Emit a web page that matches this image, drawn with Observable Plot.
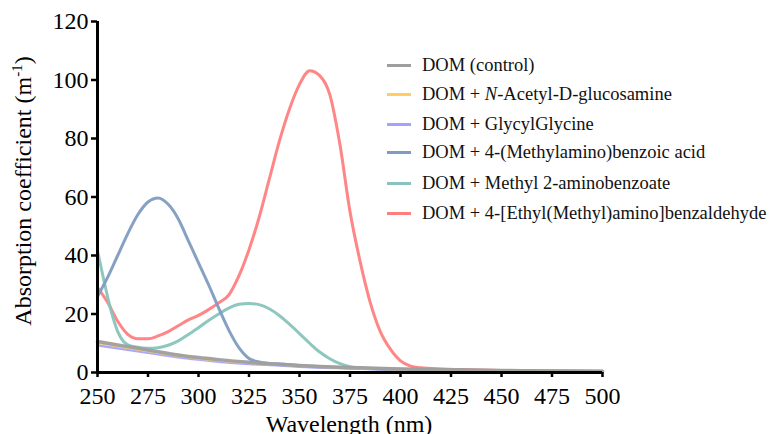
<!DOCTYPE html>
<html>
<head>
<meta charset="utf-8">
<script src="https://cdn.jsdelivr.net/npm/d3@7"></script>
<script src="https://cdn.jsdelivr.net/npm/@observablehq/plot@0.6"></script>
<style>
  html, body { margin: 0; padding: 0; background: #fff; }
  #wrap { position: relative; width: 769px; height: 434px; overflow: hidden; font-family: "Liberation Serif", "Times New Roman", serif; }
  #legend { position: absolute; left: 387px; top: 50px; }
  .item { position: absolute; left: 0; height: 30px; display: flex; align-items: center; white-space: nowrap; font-size: 18.5px; color: #111; }
  .swatch { width: 24px; height: 3px; margin-right: 11px; }
</style>
</head>
<body>
<div id="wrap"><div id="legend"></div></div>
<script>
// ---- data ----
const seriesNames = [
  "DOM (control)",
  "DOM + N-Acetyl-D-glucosamine",
  "DOM + GlycylGlycine",
  "DOM + 4-(Methylamino)benzoic acid",
  "DOM + Methyl 2-aminobenzoate",
  "DOM + 4-[Ethyl(Methyl)amino]benzaldehyde"
];
const seriesColors = ["#9e9e9e", "#ffcc66", "#a3a3ff", "#7f9cc0", "#88c4bd", "#ff7f7f"];

const controlW = [250, 260, 270, 280, 290, 300, 310, 325, 340, 350, 375, 400, 425, 450, 475, 500];
const controlV = [10.6, 9.4, 8.3, 7.1, 6.0, 5.1, 4.4, 3.5, 2.8, 2.4, 1.7, 1.2, 0.9, 0.7, 0.55, 0.45];

const nagW = [250, 260, 270, 280, 290, 300, 310, 325, 340, 350, 375, 400, 425, 450, 475, 500];
const nagV = [10.0, 8.9, 7.8, 6.7, 5.6, 4.7, 4.0, 3.2, 2.6, 2.2, 1.5, 1.0, 0.8, 0.6, 0.5, 0.4];

const ggW = [250, 260, 270, 280, 290, 300, 310, 325, 340, 350, 375, 400, 425, 450, 475, 500];
const ggV = [9.3, 8.3, 7.3, 6.2, 5.2, 4.4, 3.7, 2.9, 2.4, 2.0, 1.4, 0.9, 0.7, 0.5, 0.4, 0.3];

const mabW = [250, 255, 260, 265, 270, 275, 280, 285, 290, 295, 300, 305, 310, 315, 320, 325, 330, 335, 340, 350, 375, 400, 425, 450, 475, 500];
const mabV = [26, 32.5, 40, 47.5, 54, 58.3, 59.7, 57.5, 52.5, 45, 37.5, 30, 22, 14.5, 8.5, 4.8, 3.6, 3.1, 2.9, 2.4, 1.6, 1.1, 0.8, 0.6, 0.5, 0.4];

const m2aW = [250, 253, 256, 260, 263, 265, 270, 275, 280, 285, 290, 295, 300, 305, 310, 315, 320, 325, 330, 335, 340, 345, 350, 355, 360, 365, 370, 375, 380, 390, 400, 425, 450, 475, 500];
const m2aV = [41.5, 32, 23, 14, 10.5, 9.5, 8.6, 8.3, 8.5, 9.3, 10.8, 13, 15.3, 17.8, 20, 22, 23.3, 23.6, 23.2, 21.8, 19.5, 16.5, 13.3, 10, 7, 4.7, 3, 2, 1.5, 1.1, 0.9, 0.6, 0.5, 0.4, 0.3];

const emaW = [250, 255, 260, 265, 270, 275, 280, 285, 290, 295, 300, 305, 310, 315, 320, 325, 330, 335, 340, 345, 350, 355, 360, 365, 370, 375, 380, 385, 390, 395, 400, 405, 410, 420, 430, 450, 475, 500];
const emaV = [29, 24, 17.5, 13, 11.5, 11.5, 12.5, 14, 16, 18, 19.5, 21.5, 23.8, 26.5, 33, 42, 53, 66, 79, 90, 98.5, 103.2, 101.5, 95, 78, 55, 38, 24, 14, 8, 4, 2.2, 1.6, 1.2, 1.0, 0.7, 0.5, 0.3];

const xTicks = [250, 275, 300, 325, 350, 375, 400, 425, 450, 475, 500];
const yTicks = [0, 20, 40, 60, 80, 100, 120];

// ---- build table ----
const pairs = [[controlW, controlV], [nagW, nagV], [ggW, ggV], [mabW, mabV], [m2aW, m2aV], [emaW, emaV]];
const rows = [];
pairs.forEach(([ws, vs], i) => ws.forEach((w, j) => rows.push({series: seriesNames[i], w, v: vs[j]})));
const drawOrder = [5, 4, 3, 2, 1, 0];
const widths = [3.5, 2, 2.5, 3, 3, 3];

const marks = drawOrder.map(i => Plot.line(rows.filter(r => r.series === seriesNames[i]), {
  x: "w", y: "v", stroke: seriesColors[i], strokeWidth: widths[i], curve: "monotone-x", strokeOpacity: 0.95
}));

const chart = Plot.plot({
  width: 769,
  height: 434,
  marginLeft: 97,
  marginRight: 167,
  marginTop: 21,
  marginBottom: 62,
  style: {fontFamily: "'Liberation Serif', 'Times New Roman', serif", fontSize: "24px", color: "#000", background: "transparent"},
  x: {domain: [250, 500], label: null},
  y: {domain: [0, 120], label: null},
  marks: [
    ...marks,
    Plot.axisX({ticks: xTicks, tickSize: 5, tickPadding: 9, strokeWidth: 2.5, fontSize: 24, label: null}),
    Plot.axisY({ticks: yTicks, tickSize: 6, tickPadding: 3, strokeWidth: 2.5, fontSize: 24, label: null}),
    Plot.ruleY([0], {x1: 250, x2: 500, stroke: "#000", strokeWidth: 3}),
    Plot.ruleX([250], {y1: 0, y2: 120, stroke: "#000", strokeWidth: 3})
  ]
});
chart.style.position = "absolute";
chart.style.left = "0";
chart.style.top = "0";
document.getElementById("wrap").prepend(chart);

// axis titles
const svg = d3.select(chart);
svg.append("text")
  .attr("x", 349).attr("y", 432)
  .attr("text-anchor", "middle")
  .attr("font-family", "'Liberation Serif', 'Times New Roman', serif").attr("font-size", 24).attr("fill", "#000")
  .text("Wavelength (nm)");
const yt = svg.append("text")
  .attr("transform", "translate(31,191) rotate(-90)")
  .attr("text-anchor", "middle")
  .attr("font-family", "'Liberation Serif', 'Times New Roman', serif").attr("font-size", 24).attr("fill", "#000");
yt.append("tspan").text("Absorption coefficient (m");
yt.append("tspan").attr("font-size", 15).attr("dy", -9).text("-1");
yt.append("tspan").attr("dy", 9).text(")");

// legend
const legend = document.getElementById("legend");
const rowY = [0, 29.3, 59, 87.5, 118.5, 148.5];
seriesNames.forEach((name, i) => {
  const d = document.createElement("div");
  d.className = "item";
  d.style.top = rowY[i] + "px";
  const sw = document.createElement("span");
  sw.className = "swatch";
  sw.style.background = seriesColors[i];
  d.appendChild(sw);
  const t = document.createElement("span");
  if (name.includes("N-Acetyl")) {
    t.innerHTML = "DOM + <i>N</i>-Acetyl-D-glucosamine";
  } else {
    t.textContent = name;
  }
  d.appendChild(t);
  legend.appendChild(d);
});
</script>
</body>
</html>
